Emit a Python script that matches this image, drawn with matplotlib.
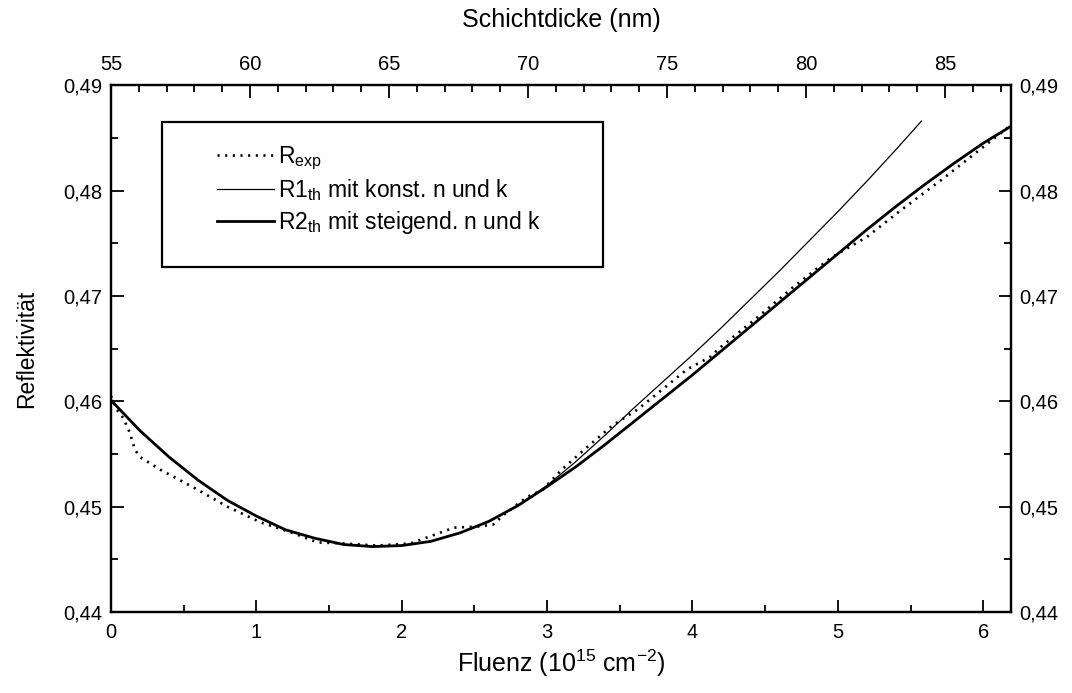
import numpy as np
import matplotlib
matplotlib.use("Agg")
import matplotlib.pyplot as plt
from matplotlib.ticker import MultipleLocator, FuncFormatter
from matplotlib.patches import Rectangle

plt.rcParams['font.family'] = ['Liberation Sans', 'DejaVu Sans']
plt.rcParams['mathtext.default'] = 'regular'

# experimental reflectivity (dotted)
x_exp = [0.0, 0.04, 0.085, 0.13, 0.165, 0.2, 0.34, 0.57, 0.80, 1.03, 1.25, 1.42,
         1.60, 1.83, 2.06, 2.36, 2.52, 2.63, 2.70, 2.86, 2.97, 3.10, 3.28, 3.45,
         3.62, 3.80, 3.96, 4.12, 4.19, 4.45, 4.69, 4.95, 5.20, 5.43, 5.73, 5.95,
         6.19]
r_exp = [0.4605, 0.4592, 0.4584, 0.4570, 0.4554, 0.4547, 0.4535, 0.4518, 0.4500,
         0.4485, 0.4475, 0.4466, 0.4465, 0.4463, 0.4465, 0.4480, 0.4481, 0.4483,
         0.4492, 0.4509, 0.4516, 0.4535, 0.4557, 0.4577, 0.4592, 0.4612, 0.4630,
         0.4642, 0.4651, 0.4680, 0.4708, 0.4736, 0.4756, 0.4781, 0.4812, 0.4836,
         0.4862]

# R2 theory, rising n and k (thick)
x_r2 = [0.0, 0.2, 0.4, 0.6, 0.8, 1.0, 1.2, 1.4, 1.6, 1.8, 2.0, 2.2, 2.4, 2.6,
        2.8, 3.0, 3.2, 3.4, 3.6, 3.8, 4.0, 4.2, 4.4, 4.6, 4.8, 5.0, 5.2, 5.4,
        5.6, 5.8, 6.0, 6.19]
r_r2 = [0.4601, 0.4572, 0.4547, 0.4525, 0.4506, 0.4491, 0.4478, 0.4470, 0.4464,
        0.4462, 0.4463, 0.4467, 0.4475, 0.4486, 0.4501, 0.4519, 0.4538, 0.4559,
        0.4581, 0.4603, 0.4625, 0.4648, 0.4671, 0.4694, 0.4717, 0.4740, 0.4763,
        0.4785, 0.4806, 0.4826, 0.4845, 0.4861]

# R1 theory, constant n and k (thin)
x_r1 = [0.0, 0.2, 0.4, 0.6, 0.8, 1.0, 1.2, 1.4, 1.6, 1.8, 2.0, 2.2, 2.4, 2.6,
        2.8, 3.0, 3.2, 3.4, 3.6, 3.8, 4.0, 4.2, 4.4, 4.6, 4.8, 5.0, 5.2, 5.4,
        5.575]
r_r1 = [0.4601, 0.4572, 0.4547, 0.4525, 0.4506, 0.4491, 0.4478, 0.4470, 0.4464,
        0.4462, 0.4463, 0.4467, 0.4475, 0.4486, 0.4501, 0.4520, 0.4543, 0.4568,
        0.4594, 0.4619, 0.4644, 0.4670, 0.4697, 0.4724, 0.4752, 0.4780, 0.4809,
        0.4839, 0.4866]

# layer thickness (nm) range of the top axis
nm_lo, nm_hi = 55.0, 87.37
fl_lo, fl_hi = 0.0, 6.19

fig, ax = plt.subplots(figsize=(10.72, 6.93), dpi=100)
fig.subplots_adjust(left=0.1035, right=0.943, top=0.877, bottom=0.117)

ax.plot(x_exp, r_exp, color='black', lw=1.9, linestyle=(0, (0.8, 2.1)),
        label='R$_{exp}$')
ax.plot(x_r1, r_r1, color='black', lw=0.9, label='R1$_{th}$ mit konst. n und k')
ax.plot(x_r2, r_r2, color='black', lw=2.0, label='R2$_{th}$ mit steigend. n und k')

ax.set_xlim(fl_lo, fl_hi)
ax.set_ylim(0.44, 0.49)

comma = FuncFormatter(lambda v, p: f"{v:.2f}".replace('.', ','))
ax.yaxis.set_major_locator(MultipleLocator(0.01))
ax.yaxis.set_minor_locator(MultipleLocator(0.005))
ax.yaxis.set_major_formatter(comma)
ax.xaxis.set_major_locator(MultipleLocator(1))
ax.xaxis.set_minor_locator(MultipleLocator(0.5))

ax.tick_params(which='both', direction='in', width=1.3, labelsize=14.5,
               left=True, right=True, labelright=True, top=False)
ax.tick_params(which='major', length=9)
ax.tick_params(which='minor', length=5)
ax.tick_params(axis='x', pad=8)
ax.tick_params(axis='y', pad=6)
for s in ax.spines.values():
    s.set_linewidth(1.6)

top = ax.twiny()
top.set_xlim(nm_lo, nm_hi)
top.xaxis.set_major_locator(MultipleLocator(5))
top.xaxis.set_minor_locator(MultipleLocator(1))
top.tick_params(which='both', direction='in', width=1.3, labelsize=14.5, pad=8)
top.tick_params(which='major', length=9)
top.tick_params(which='minor', length=5)
for s in top.spines.values():
    s.set_linewidth(1.6)
top.set_xlabel('Schichtdicke (nm)', fontsize=18, labelpad=20)

ax.set_xlabel('Fluenz (10$^{15}$ cm$^{-2}$)', fontsize=18, labelpad=4)
ax.set_ylabel('Reflektivität', fontsize=16.5, labelpad=18)

ax.add_patch(Rectangle((0.057, 0.655), 0.49, 0.275, transform=ax.transAxes,
                       fill=False, lw=1.6, edgecolor='black', zorder=5))
ax.legend(loc='upper left', bbox_to_anchor=(0.118, 0.888), frameon=False,
          fontsize=16.5, handlelength=2.5, handletextpad=0.15, labelspacing=0.25,
          borderpad=0, borderaxespad=0)

fig.savefig('out.png', dpi=100)
